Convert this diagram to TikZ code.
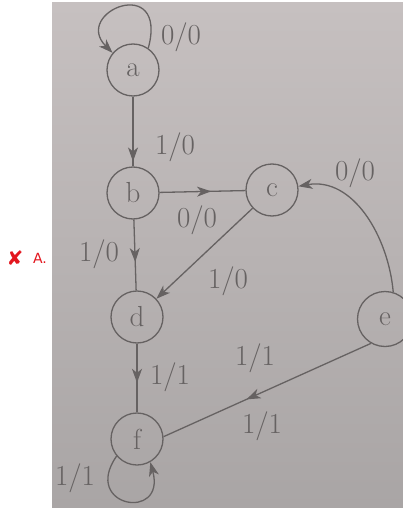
\documentclass[tikz,border=0pt]{standalone}
\usepackage{fontspec}
\newfontfamily\djv{DejaVu Sans}
\usetikzlibrary{arrows.meta,decorations.markings}
\definecolor{ink}{HTML}{666262}
\definecolor{paperTop}{HTML}{C6C0C0}
\definecolor{paperBot}{HTML}{A9A5A5}
\definecolor{mark}{HTML}{E3161E}
\tikzset{
  state/.style={circle,draw=ink,line width=1.3pt,minimum size=52pt,inner sep=0pt,text=ink,font=\fontsize{29}{31}\selectfont},
  lbl/.style={text=ink,font=\fontsize{29}{31}\selectfont,inner sep=0pt},
  conn/.style={color=ink,line width=1.3pt},
  tipend/.style={-{Stealth[length=14pt,width=10pt,inset=4pt]}},
  midarrow/.style={postaction={decorate},decoration={markings,mark=at position #1 with {\arrow{Stealth[length=14pt,width=10pt,inset=4pt]}}}}
}
\begin{document}
\begin{tikzpicture}[x=1pt,y=1pt]
\useasboundingbox (0,0) rectangle (403,-508);
\fill[white] (0,0) rectangle (403,-508);
\shade[top color=paperTop,bottom color=paperBot] (52,-3) rectangle (403,-508);
% mark
\node[text=mark,font=\djv\fontsize{20}{22}\selectfont,inner sep=0pt] (x) at (15,-258) {✘};
\node[text=mark,font=\djv\fontsize{14}{16}\selectfont,inner sep=0pt] (lA) at (40,-258) {A.};
% states
\node[state] (a) at (133,-70) {a};
\node[state] (b) at (133,-193) {b};
\node[state] (c) at (272,-190) {c};
\node[state] (d) at (137,-317) {d};
\node[state,minimum size=55pt] (e) at (385,-319) {e};
\node[state] (f) at (137,-439) {f};
% edges
\draw[conn,tipend] (a.55) .. controls +(75:78) and +(135:58) .. (a.140);
\draw[conn,midarrow=0.93] (a) -- (b);
\draw[conn,midarrow=0.6] (b) -- (c);
\draw[conn,midarrow=0.6] (b) -- (d);
\draw[conn,tipend] (c) -- (d);
\draw[conn,tipend] (e.73) to[out=95,in=10] (c.8);
\draw[conn,midarrow=0.57] (d) -- (f);
\draw[conn,midarrow=0.6] (e.240) -- (f.5);
\draw[conn,tipend] (f.220) .. controls +(235:62) and +(285:62) .. (f.300);
% labels
\node[lbl] (l1) at (181,-37) {0/0};
\node[lbl] (l2) at (175,-147) {1/0};
\node[lbl] (l3) at (197,-220) {0/0};
\node[lbl] (l4) at (355,-173) {0/0};
\node[lbl] (l5) at (99,-254) {1/0};
\node[lbl] (l6) at (228,-281) {1/0};
\node[lbl] (l7) at (170,-377) {1/1};
\node[lbl] (l8) at (255,-358) {1/1};
\node[lbl] (l9) at (262,-426) {1/1};
\node[lbl] (l10) at (75,-478) {1/1};
\end{tikzpicture}
\end{document}
